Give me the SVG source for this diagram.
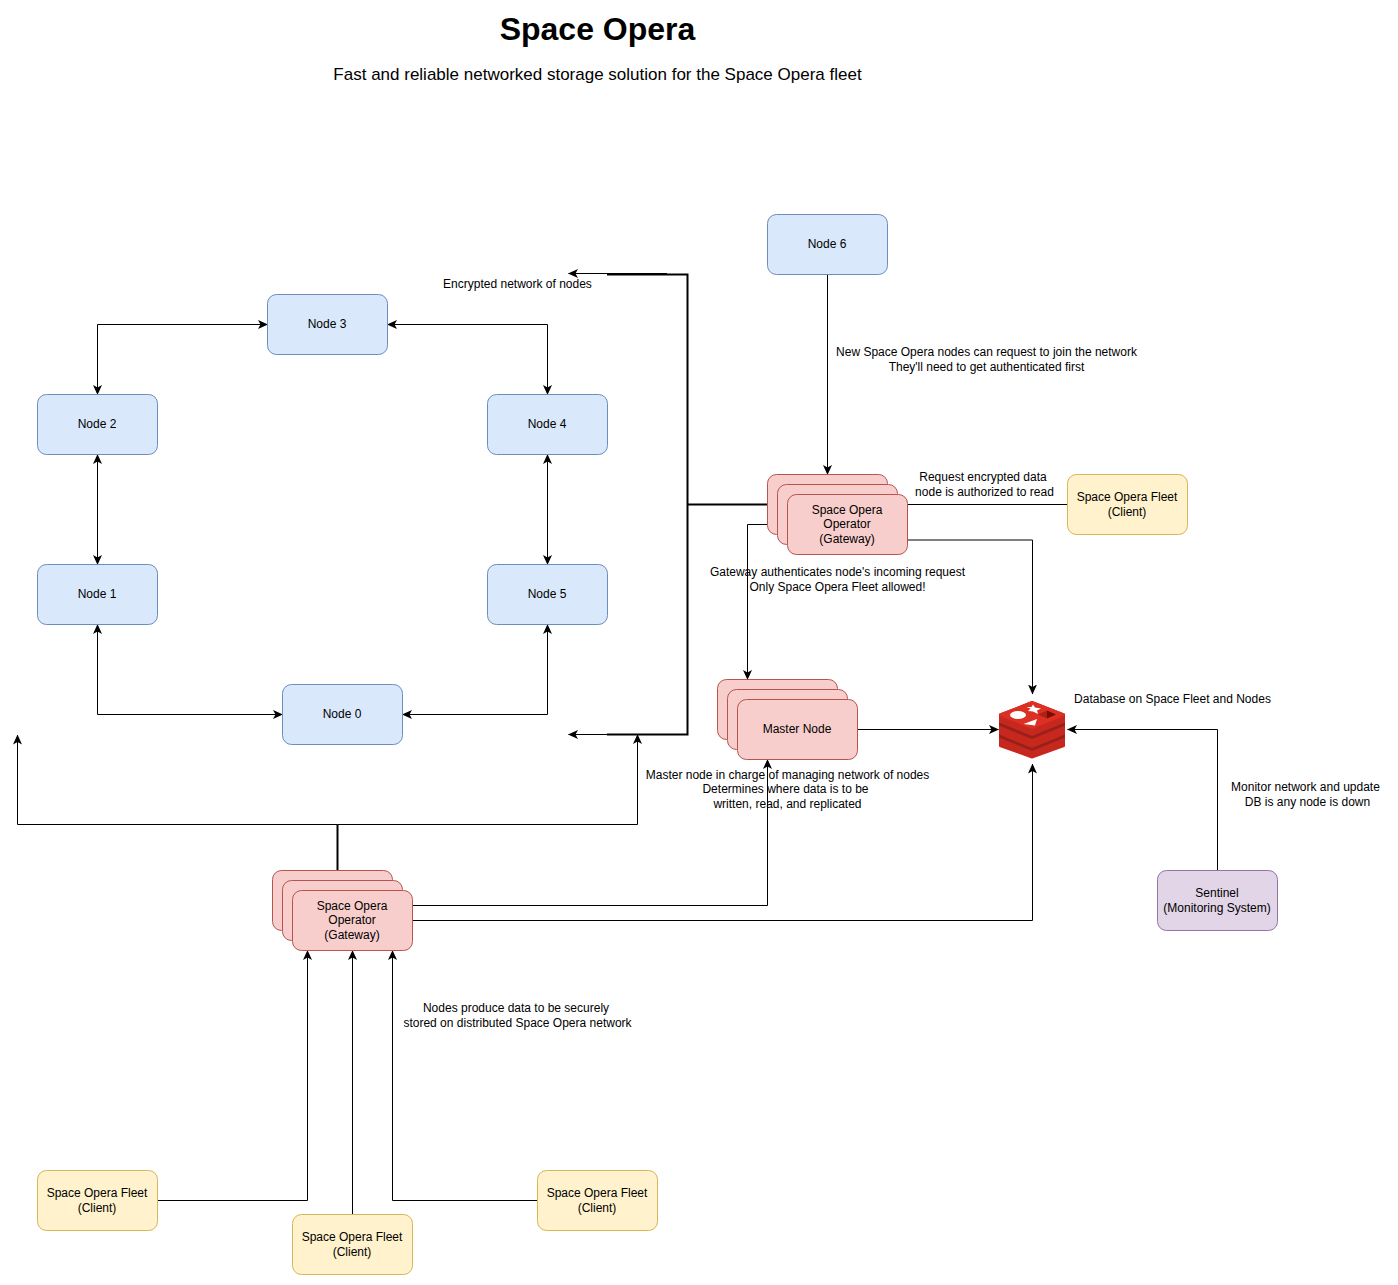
<svg xmlns="http://www.w3.org/2000/svg" width="1398" height="1285" viewBox="0 0 1398 1285">
<style>
text{font-family:"Liberation Sans",Arial,sans-serif;font-size:12px;fill:#000;text-anchor:middle}
.blue{fill:#dae8fc;stroke:#6c8ebf}
.red{fill:#f8cecc;stroke:#b85450}
.yel{fill:#fff2cc;stroke:#d6b656}
.pur{fill:#e1d5e7;stroke:#9673a6}
rect{stroke-width:1}
.c{fill:none;stroke:#000;stroke-width:1}
.t{fill:none;stroke:#000;stroke-width:2}
</style>
<defs>
<marker id="a" viewBox="0 0 10 10" refX="9.500" refY="5" markerWidth="10" markerHeight="10" markerUnits="userSpaceOnUse" orient="auto-start-reverse"><path d="M0 0.500L10 5L0 9.500L2.500 5Z" fill="#000"/></marker>
</defs>
<rect width="1398" height="1285" fill="#fff"/>
<text x="597.500" y="40" style="font-size:32px;font-weight:bold">Space Opera</text>
<text x="597.500" y="80" style="font-size:17px">Fast and reliable networked storage solution for the Space Opera fleet</text>
<g id="connectors">
<path class="c" d="M97.500 394.500V324.500H267.500" marker-start="url(#a)" marker-end="url(#a)"/>
<path class="c" d="M547.500 394.500V324.500H387.500" marker-start="url(#a)" marker-end="url(#a)"/>
<path class="c" d="M97.500 564.500V454.500" marker-start="url(#a)" marker-end="url(#a)"/>
<path class="c" d="M547.500 564.500V454.500" marker-start="url(#a)" marker-end="url(#a)"/>
<path class="c" d="M97.500 624.500V714.500H282.500" marker-start="url(#a)" marker-end="url(#a)"/>
<path class="c" d="M547.500 624.500V714.500H402.500" marker-start="url(#a)" marker-end="url(#a)"/>
<path class="c" d="M827.500 274.500V474.500" marker-end="url(#a)"/>
<path class="c" d="M667 273.500H568.500" marker-end="url(#a)"/>
<path class="c" d="M607 734.500H568.500" marker-end="url(#a)"/>
<path class="t" d="M767.500 504.500H687.500M607 274.500H687.500V734.500H607"/>
<path class="c" d="M1067.500 504.500H907.500"/>
<path class="c" d="M907.500 540H1032.500V694" marker-end="url(#a)"/>
<path class="c" d="M787.500 524.500H747.500V679.500" marker-end="url(#a)"/>
<path class="c" d="M857.500 729.500H998.500" marker-end="url(#a)"/>
<path class="c" d="M1217.500 870.500V729.500H1067.500" marker-end="url(#a)"/>
<path class="c" d="M337.500 824.500H17.500V735" marker-end="url(#a)"/>
<path class="c" d="M337.500 824.500H637.500V734.500" marker-end="url(#a)"/>
<path class="t" d="M337.500 870.500V824.500"/>
<path class="c" d="M412.500 905.500H767.500V759.500" marker-end="url(#a)"/>
<path class="c" d="M412.500 920.500H1032.500V764" marker-end="url(#a)"/>
<path class="c" d="M157.500 1200.500H307.500V950.500" marker-end="url(#a)"/>
<path class="c" d="M352.500 1214.500V950.500" marker-end="url(#a)"/>
<path class="c" d="M537.500 1200.500H392.500V950.500" marker-end="url(#a)"/>
</g>
<g id="node0"><rect class="blue" x="282.500" y="684.500" width="120" height="60" rx="9"/><text x="342" y="718">Node 0</text></g>
<g id="node1"><rect class="blue" x="37.500" y="564.500" width="120" height="60" rx="9"/><text x="97" y="598">Node 1</text></g>
<g id="node2"><rect class="blue" x="37.500" y="394.500" width="120" height="60" rx="9"/><text x="97" y="428">Node 2</text></g>
<g id="node3"><rect class="blue" x="267.500" y="294.500" width="120" height="60" rx="9"/><text x="327" y="328">Node 3</text></g>
<g id="node4"><rect class="blue" x="487.500" y="394.500" width="120" height="60" rx="9"/><text x="547" y="428">Node 4</text></g>
<g id="node5"><rect class="blue" x="487.500" y="564.500" width="120" height="60" rx="9"/><text x="547" y="598">Node 5</text></g>
<g id="node6"><rect class="blue" x="767.500" y="214.500" width="120" height="60" rx="9"/><text x="827" y="248">Node 6</text></g>
<g id="gateway-top">
<rect class="red" x="767.500" y="474.500" width="120" height="60" rx="9"/>
<rect class="red" x="777.500" y="484.500" width="120" height="60" rx="9"/>
<rect class="red" x="787.500" y="494.500" width="120" height="60" rx="9"/>
<text x="847" y="514">Space Opera</text><text x="847" y="528">Operator</text><text x="847" y="543">(Gateway)</text>
</g>
<g id="master">
<rect class="red" x="717.500" y="679.500" width="120" height="60" rx="9"/>
<rect class="red" x="727.500" y="689.500" width="120" height="60" rx="9"/>
<rect class="red" x="737.500" y="699.500" width="120" height="60" rx="9"/>
<text x="797" y="733">Master Node</text>
</g>
<g id="gateway-bottom">
<rect class="red" x="272.500" y="870.500" width="120" height="60" rx="9"/>
<rect class="red" x="282.500" y="880.500" width="120" height="60" rx="9"/>
<rect class="red" x="292.500" y="890.500" width="120" height="60" rx="9"/>
<text x="352" y="910">Space Opera</text><text x="352" y="924">Operator</text><text x="352" y="939">(Gateway)</text>
</g>
<g id="client-top"><rect class="yel" x="1067.500" y="474.500" width="120" height="60" rx="9"/><text x="1127" y="501">Space Opera Fleet</text><text x="1127" y="516">(Client)</text></g>
<g id="client-a"><rect class="yel" x="37.500" y="1170.500" width="120" height="60" rx="9"/><text x="97" y="1197">Space Opera Fleet</text><text x="97" y="1212">(Client)</text></g>
<g id="client-b"><rect class="yel" x="292.500" y="1214.500" width="120" height="60" rx="9"/><text x="352" y="1241">Space Opera Fleet</text><text x="352" y="1256">(Client)</text></g>
<g id="client-c"><rect class="yel" x="537.500" y="1170.500" width="120" height="60" rx="9"/><text x="597" y="1197">Space Opera Fleet</text><text x="597" y="1212">(Client)</text></g>
<g id="sentinel"><rect class="pur" x="1157.500" y="870.500" width="120" height="60" rx="9"/><text x="1217" y="897">Sentinel</text><text x="1217" y="912">(Monitoring System)</text></g>
<g id="database">
<path d="M1032 702L1064 714.500V746L1032 757.500L1000 746V714.500Z" fill="#c6281d" stroke="#c6281d" stroke-width="2" stroke-linejoin="round"/>
<path d="M999 722.500L1032 736L1065 722.500V725.500L1032 739L999 725.500Z" fill="#99201a"/>
<path d="M999 734.500L1032 748L1065 734.500V737.500L1032 751L999 737.500Z" fill="#99201a"/>
<path d="M1000 714.500L1032 702L1064 714.500L1032 728Z" fill="#dc3025" stroke="#dc3025" stroke-width="2" stroke-linejoin="round"/>
<ellipse cx="1018" cy="715" rx="8" ry="4" fill="#fff"/>
<path d="M1033 704.500L1035 707.500L1041 708.500L1037 710.500L1038 714L1033 711.500L1028 711L1030.500 708.500L1026.500 707L1031.500 707Z" fill="#fff"/>
<path d="M1023.500 724L1037 719L1035 725.500Z" fill="#fff"/>
<path d="M1047 710.500L1056 714.500L1047 718.500Z" fill="#7a0c00"/>
<path d="M1038 714.500L1047 710.500V718.500Z" fill="#ad2115"/>
</g>
<g id="labels">
<text x="517.500" y="288">Encrypted network of nodes</text>
<text x="986.500" y="356">New Space Opera nodes can request to join the network</text>
<text x="986.500" y="371">They'll need to get authenticated first</text>
<text x="983" y="481">Request encrypted data</text>
<text x="984.500" y="496">node is authorized to read</text>
<text x="837.500" y="576">Gateway authenticates node's incoming request</text>
<text x="837.500" y="591">Only Space Opera Fleet allowed!</text>
<text x="1172.500" y="703">Database on Space Fleet and Nodes</text>
<text x="787.500" y="779">Master node in charge of managing network of nodes</text>
<text x="785.500" y="793">Determines where data is to be</text>
<text x="787.500" y="808">written, read, and replicated</text>
<text x="1305.500" y="791">Monitor network and update</text>
<text x="1307.500" y="806">DB is any node is down</text>
<text x="516" y="1012">Nodes produce data to be securely</text>
<text x="517.500" y="1027">stored on distributed Space Opera network</text>
</g>
</svg>
